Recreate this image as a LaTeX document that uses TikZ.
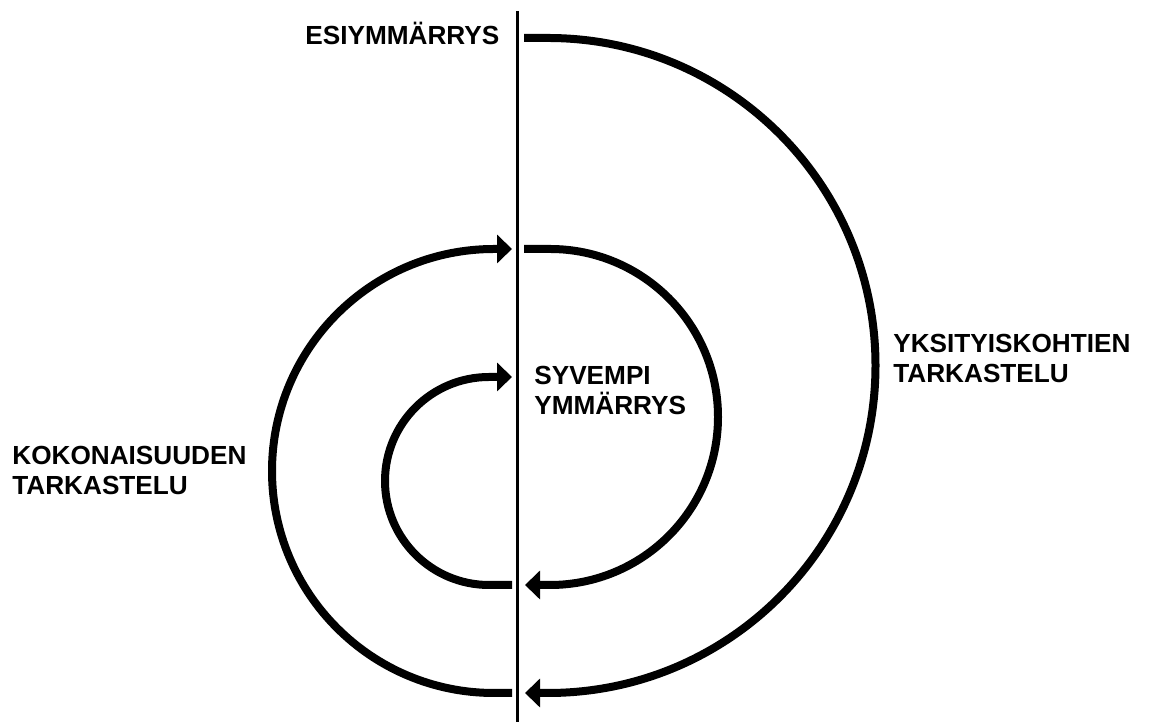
\documentclass[tikz,border=0pt]{standalone}
\usepackage{fontspec}
\setmainfont{Liberation Sans}
\usetikzlibrary{arrows.meta}

\begin{document}
\begin{tikzpicture}[x=0.02cm, y=0.02cm,
      lbl/.style={anchor=base west, inner sep=0pt, align=left,
                  font=\bfseries\fontsize{14.9}{17.4}\selectfont},
      loop/.style={line width=0.16cm, line cap=butt},
      arr/.style={loop, -{Triangle[length=0.3cm, width=0.56cm]}}
    ]
    \useasboundingbox (0,0) rectangle (1156,722);
    % axis
    \coordinate (axtop) at (517.5,711);
    \coordinate (axbot) at (517.5,0);
    \draw[line width=0.055cm] (axtop) -- (axbot);
    % ends of the loops on the axis
    \coordinate (r1) at (524,684);  \coordinate (r1e) at (525,29);
    \coordinate (r2) at (524,473);  \coordinate (r2e) at (525,137);
    \coordinate (l1) at (512,29);   \coordinate (l1e) at (512,473);
    \coordinate (l2) at (512,137);  \coordinate (l2e) at (512,345);
    % labels (base = last line)
    \node[lbl] (esi) at (305,677) {ESIYMMÄRRYS};
    \node[lbl] (syv) at (534,307) {SYVEMPI\\YMMÄRRYS};
    \node[lbl] (yks) at (893,339) {YKSITYISKOHTIEN\\TARKASTELU};
    \node[lbl] (kok) at (12,227) {KOKONAISUUDEN\\TARKASTELU};
    % spiral
    \draw[arr] (r1) -- ++(24,0) arc[start angle=90, end angle=-90, radius=327.5] -- (r1e);
    \draw[arr] (l1) -- ++(-18,0) arc[start angle=270, end angle=90, radius=222] -- (l1e);
    \draw[arr] (r2) -- ++(26,0) arc[start angle=90, end angle=-90, radius=168] -- (r2e);
    \draw[arr] (l2) -- ++(-23,0) arc[start angle=270, end angle=90, radius=104] -- (l2e);
  \end{tikzpicture}
\end{document}
